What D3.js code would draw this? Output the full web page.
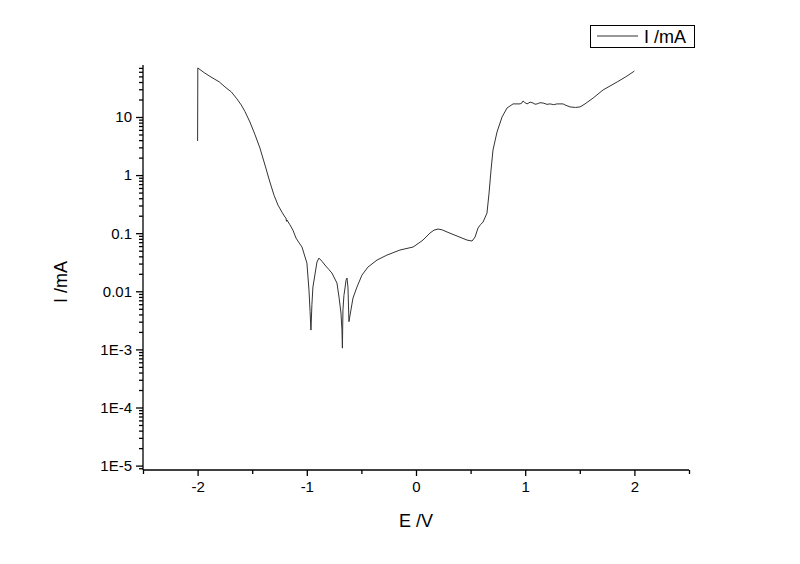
<!DOCTYPE html>
<html>
<head>
<meta charset="utf-8">
<script src="https://cdn.jsdelivr.net/npm/d3@7"></script>
<style>
  body { margin: 0; background: #fff; }
  svg text { font-family: Arial, "Liberation Sans", sans-serif; fill: #000; }
</style>
</head>
<body>
<script>
// potential E in V
var potential = [
  -2.0, -1.998, -1.94, -1.887, -1.80, -1.75, -1.69, -1.64, -1.60, -1.567,
  -1.521, -1.475, -1.429, -1.383, -1.338, -1.30, -1.264, -1.228, -1.200, -1.191,
  -1.186, -1.182, -1.155, -1.127, -1.099, -1.070, -1.044, -0.999, -0.980, -0.970,
  -0.962, -0.953, -0.944, -0.907, -0.889, -0.862, -0.834, -0.800, -0.770, -0.724,
  -0.705, -0.687, -0.678, -0.674, -0.669, -0.660, -0.650, -0.641, -0.632, -0.623,
  -0.614, -0.596, -0.577, -0.541, -0.495, -0.440, -0.357, -0.266, -0.147, -0.027,
  0.0, 0.064, 0.128, 0.165, 0.202, 0.240, 0.284, 0.376, 0.467, 0.513,
  0.541, 0.568, 0.590, 0.614, 0.650, 0.669, 0.687, 0.705, 0.742, 0.788,
  0.834, 0.889, 0.953, 0.970, 0.980, 0.995, 1.017, 1.045, 1.072, 1.090,
  1.109, 1.135, 1.164, 1.200, 1.228, 1.260, 1.292, 1.347, 1.365, 1.411,
  1.460, 1.502, 1.548, 1.622, 1.713, 1.842, 1.920, 1.988, 2.0
];

// current I in mA
var current = [
  3.86, 69.8, 58, 50, 40, 33, 26.9, 20.5, 16.1, 12.5,
  8.2, 5.0, 2.92, 1.49, 0.76, 0.45, 0.305, 0.231, 0.19, 0.182,
  0.16, 0.169, 0.14, 0.113, 0.0826, 0.068, 0.0578, 0.0306, 0.0105, 0.0045,
  0.00215, 0.006, 0.0118, 0.0319, 0.0373, 0.033, 0.0283, 0.024, 0.0206, 0.0139,
  0.00796, 0.00422, 0.00215, 0.00105, 0.00475, 0.0085, 0.0114, 0.0155, 0.0169, 0.0118,
  0.0030, 0.00475, 0.00766, 0.0118, 0.019, 0.0261, 0.0345, 0.042, 0.0513, 0.0578,
  0.0625, 0.0762, 0.1006, 0.113, 0.118, 0.114, 0.105, 0.0893, 0.0762, 0.0733,
  0.0859, 0.1227, 0.140, 0.1556, 0.222, 0.491, 1.22, 2.70, 5.52, 10,
  14.3, 16.8, 16.8, 17.5, 18.9, 17.8, 16.8, 18.0, 17.4, 16.6,
  16.8, 17.6, 17.4, 16.5, 16.8, 16.3, 16.8, 16.8, 16.1, 14.9,
  14.6, 14.9, 16.8, 21.2, 29.2, 40.1, 49, 59.6, 62
];

var xTicks = [-2, -1, 0, 1, 2];
var xTickLabels = ["-2", "-1", "0", "1", "2"];
var xMinorTicks = [-2.5, -1.5, -0.5, 0.5, 1.5, 2.5];
var yTicks = [10, 1, 0.1, 0.01, 1e-3, 1e-4, 1e-5];
var yTickLabels = ["10", "1", "0.1", "0.01", "1E-3", "1E-4", "1E-5"];

var width = 800;
var height = 564;
var margin = {left: 143, right: 111, top: 65, bottom: 94};

var svg = d3.select("body")
  .append("svg")
  .attr("width", width)
  .attr("height", height);

// scales
var x = d3.scaleLinear()
  .domain([-2.5, 2.5])
  .range([margin.left, width - margin.right]);

var y = d3.scaleLog()
  .domain([8.4e-6, 78.5])
  .range([height - margin.bottom, margin.top]);

// log minor ticks: 2..9 of every decade inside the domain
var yMinor = [];
for (var e = -6; e <= 1; e++) {
  for (var m = 2; m <= 9; m++) {
    var v = m * Math.pow(10, e);
    if (v >= y.domain()[0] && v <= y.domain()[1]) { yMinor.push(v); }
  }
}

// x axis
var xAxis = svg.append("g")
  .attr("transform", "translate(0," + (height - margin.bottom) + ")")
  .call(d3.axisBottom(x).tickValues(xTicks).tickSize(6).tickPadding(5)
    .tickFormat(function(d, i){ return xTickLabels[i]; }));
xAxis.select(".domain").attr("d", "M" + x.range()[0] + ",0H" + x.range()[1]);
xAxis.append("g")
  .call(d3.axisBottom(x).tickValues(xMinorTicks).tickSize(4).tickFormat(""))
  .select(".domain").remove();

// y axis
var yAxis = svg.append("g")
  .attr("transform", "translate(" + margin.left + ",0)")
  .call(d3.axisLeft(y).tickValues(yTicks).tickSize(7).tickPadding(4)
    .tickFormat(function(d, i){ return yTickLabels[i]; }));
yAxis.select(".domain").attr("d", "M0," + y.range()[0] + "V" + y.range()[1]);
yAxis.append("g")
  .call(d3.axisLeft(y).tickValues(yMinor).tickSize(4).tickFormat(""))
  .select(".domain").remove();

svg.selectAll(".domain, .tick line")
  .attr("stroke", "#000")
  .attr("stroke-width", 1.3);
svg.selectAll(".tick text")
  .style("font-size", "15px");

// axis titles
svg.append("text")
  .attr("x", x(0))
  .attr("y", 527)
  .attr("text-anchor", "middle")
  .style("font-size", "18px")
  .text("E /V");

svg.append("text")
  .attr("transform", "translate(67,282) rotate(-90)")
  .attr("text-anchor", "middle")
  .style("font-size", "18px")
  .text("I /mA");

// the curve
var pts = d3.zip(potential, current);
var line = d3.line()
  .x(function(d){ return x(d[0]); })
  .y(function(d){ return y(d[1]); });

svg.append("path")
  .datum(pts)
  .attr("d", line)
  .attr("fill", "none")
  .attr("stroke", "#333")
  .attr("stroke-width", 1);

// legend
var legend = svg.append("g");
legend.append("rect")
  .attr("x", 590.5).attr("y", 25.5)
  .attr("width", 104).attr("height", 22)
  .attr("fill", "#fff")
  .attr("stroke", "#000");
legend.append("line")
  .attr("x1", 597).attr("x2", 638)
  .attr("y1", 36).attr("y2", 36)
  .attr("stroke", "#333");
legend.append("text")
  .attr("x", 644).attr("y", 43)
  .style("font-size", "18px")
  .text("I /mA");
</script>
</body>
</html>
